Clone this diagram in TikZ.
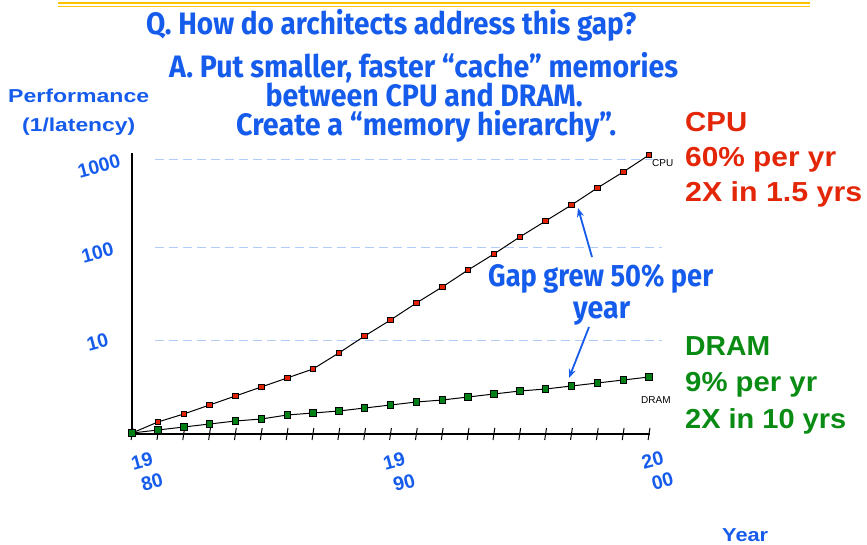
\documentclass[tikz,border=0pt]{standalone}
\usepackage{fontspec}
\usepackage{graphicx}
\setmainfont{Liberation Sans}
\newfontfamily\titlefont{Fira Sans}
\usetikzlibrary{arrows.meta}

% stretch or squeeze a text horizontally to a given width (in pt)
\newcommand{\wfit}[2]{\resizebox{#1pt}{\height}{#2}}

\definecolor{tblue}{RGB}{22,92,236}
\definecolor{cpured}{RGB}{228,38,8}
\definecolor{dramgreen}{RGB}{10,140,20}
\definecolor{gridblue}{RGB}{178,204,250}
\definecolor{rulegold}{RGB}{252,196,0}
\definecolor{redfill}{RGB}{226,34,0}
\definecolor{greenfill}{RGB}{0,128,20}

\tikzset{
  ttl/.style={inner sep=0, anchor=base west, text=tblue,
    font=\titlefont\bfseries\fontsize{31}{31}\selectfont},
  axlab/.style={inner sep=0, anchor=base west, text=tblue,
    font=\bfseries\fontsize{18.7}{18.7}\selectfont},
  ticklab/.style={inner sep=0, anchor=center, text=tblue, rotate=15,
    font=\bfseries\fontsize{19.5}{19.5}\selectfont},
  yearlab/.style={ticklab, align=left,
    font=\bfseries\fontsize{19.5}{22.9}\selectfont},
  cpulab/.style={inner sep=0, anchor=base west, text=cpured,
    font=\bfseries\fontsize{27.5}{27.5}\selectfont},
  dramlab/.style={inner sep=0, anchor=base west, text=dramgreen,
    font=\bfseries\fontsize{27.5}{27.5}\selectfont},
  curvelab/.style={inner sep=0, anchor=base west, text=black,
    font=\fontsize{10}{10}\selectfont},
  axisline/.style={line width=1.3pt, black},
  gridline/.style={line width=0.8pt, gridblue, dash pattern=on 9pt off 5pt},
  curve/.style={line width=1pt, black},
  cpumark/.style={draw=black, line width=0.8pt, fill=redfill,
    minimum size=5.6pt, inner sep=0, rectangle},
  drammark/.style={draw=black, line width=0.8pt, fill=greenfill,
    minimum size=6.4pt, inner sep=0, rectangle},
  gaparrow/.style={tblue, line width=1.8pt,
    -{Stealth[length=9pt, width=7pt]}},
}

\begin{document}
\begin{tikzpicture}[x=1pt, y=-1pt]
\path[use as bounding box] (0,0) rectangle (867,544);

% double gold rule along the top
\draw[rulegold, line width=2.4pt] (58,2.8) -- (810,2.8);
\draw[rulegold, line width=1.4pt] (58,6.4) -- (810,6.4);

% heading
\node[ttl] (q)  at (146,34.3) {\wfit{490}{Q. How do architects address this gap?}};
\node[ttl] (a1) at (169,77)   {\wfit{509}{A. Put smaller, faster “cache” memories}};
\node[ttl] (a2) at (265.5,106) {\wfit{317}{between CPU and DRAM.}};
\node[ttl] (a3) at (236,135)  {\wfit{380}{Create a “memory hierarchy”.}};

% axis titles
\node[axlab] (perf) at (8,102.7) {\wfit{141}{Performance}};
\node[axlab] (lat)  at (22,131)  {\wfit{113}{(1/latency)}};
\node[axlab] (yr)   at (722,541) {\wfit{46}{Year}};

% gridlines for the decades
\coordinate (g1a) at (155,159); \coordinate (g1b) at (662,159);
\coordinate (g2a) at (155,247); \coordinate (g2b) at (662,247);
\coordinate (g3a) at (155,340); \coordinate (g3b) at (662,340);
\draw[gridline] (g1a) -- (g1b);
\draw[gridline] (g2a) -- (g2b);
\draw[gridline] (g3a) -- (g3b);

% axes
\coordinate (O) at (132,434);
\coordinate (ytop) at (132,153);
\coordinate (xend) at (650,434);
\draw[axisline] (ytop) -- (O) -- (xend);

% year ticks
\foreach \k in {0,...,20}
  \draw[line width=1pt] ({132+25.85*\k-0.9},440) -- ({132+25.85*\k+0.9},428);

% scale labels
\node[ticklab] (l1000) at (99,166)   {1000};
\node[ticklab] (l100)  at (97.5,252.5) {100};
\node[ticklab] (l10)   at (97.5,342.5) {10};

\node[yearlab] (x80) at (147,471.5)   {19\\\hspace*{4.2pt}80};
\node[yearlab] (x90) at (399.2,472)   {19\\\hspace*{4.2pt}90};
\node[yearlab] (x00) at (657.5,470.8) {20\\\hspace*{4.2pt}00};

% data points
\foreach \y [count=\i from 0] in
  {433,422,414,405,396,387,378,369,353,336,320,303,287,270,254,237,221,205,188,172,155}
  \coordinate (c\i) at ({132+25.85*\i},\y);
\foreach \y [count=\i from 0] in
  {433,430,427,424,421,419,415,413,411,408,405,402,400,397,394,391,389,386,383,380,377}
  \coordinate (d\i) at ({132+25.85*\i},\y);

\foreach \i [remember=\i as \j (initially 0)] in {1,...,20} {
  \draw[curve] (c\j) -- (c\i);
  \draw[curve] (d\j) -- (d\i);
}
\foreach \i in {0,...,20} \node[cpumark] (cm\i) at (c\i) {};
\foreach \i in {0,...,20} \node[drammark] (dm\i) at (d\i) {};

% curve names
\node[curvelab] (cpuname)  at (652,166.5) {CPU};
\node[curvelab] (dramname) at (641,403.5) {DRAM};

% growth rates
\node[cpulab] (cpu1) at (685,131.7) {\wfit{62}{CPU}};
\node[cpulab] (cpu2) at (685,166.7) {\wfit{151}{60\% per yr}};
\node[cpulab] (cpu3) at (685,201.7) {\wfit{177}{2X in 1.5 yrs}};
\node[dramlab] (dram1) at (685,355)   {\wfit{85}{DRAM}};
\node[dramlab] (dram2) at (685,391.7) {\wfit{132}{9\% per yr}};
\node[dramlab] (dram3) at (685,428)   {\wfit{161}{2X in 10 yrs}};

% the gap
\node[ttl] (gap1) at (488,286) {\wfit{225}{Gap grew 50\% per}};
\node[ttl] (gap2) at (573,318) {\wfit{57}{year}};
\coordinate (a1s) at (592,257); \coordinate (a1e) at (578,208);
\coordinate (a2s) at (589,327); \coordinate (a2e) at (569,378);
\draw[gaparrow] (a1s) -- (a1e);
\draw[gaparrow] (a2s) -- (a2e);
\end{tikzpicture}
\end{document}
